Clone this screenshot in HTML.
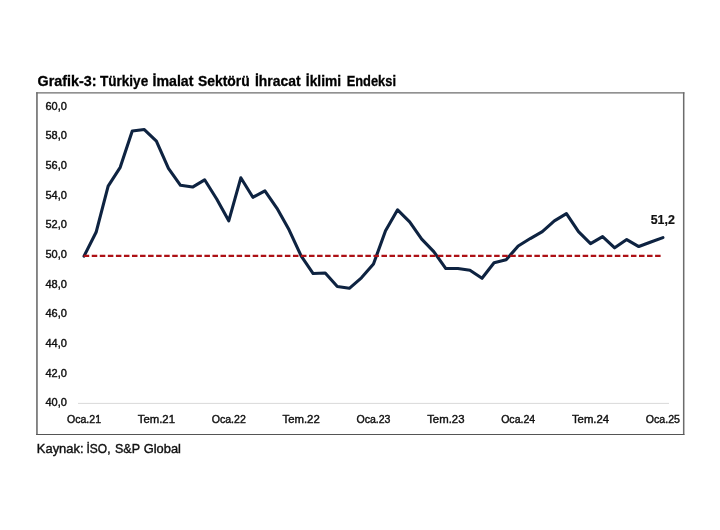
<!DOCTYPE html>
<html lang="tr">
<head>
<meta charset="utf-8">
<title>Grafik-3</title>
<style>
html,body{margin:0;padding:0;background:#fff;}
body{width:720px;height:530px;overflow:hidden;position:relative;font-family:"Liberation Sans",sans-serif;}
svg{position:absolute;left:0;top:0;display:block;}
svg text{font-family:"Liberation Sans",sans-serif;}
.ax text{font-size:10.6px;fill:#111;stroke:#111;stroke-width:0.4px;}
</style>
</head>
<body>
<svg width="720" height="530" viewBox="0 0 720 530">
<rect x="0" y="0" width="720" height="530" fill="#ffffff"/>
<text y="86" font-size="14.4" font-weight="bold" fill="#000" stroke="#000" stroke-width="0.3"><tspan x="37.6" textLength="58.98" lengthAdjust="spacingAndGlyphs">Grafik-3:</tspan> <tspan x="100.0" textLength="48.19" lengthAdjust="spacingAndGlyphs">Türkiye</tspan> <tspan x="152.5" textLength="40.9" lengthAdjust="spacingAndGlyphs">İmalat</tspan> <tspan x="198.0" textLength="51.77" lengthAdjust="spacingAndGlyphs">Sektörü</tspan> <tspan x="255.0" textLength="45.53" lengthAdjust="spacingAndGlyphs">İhracat</tspan> <tspan x="305.8" textLength="35.26" lengthAdjust="spacingAndGlyphs">İklimi</tspan> <tspan x="346.7" textLength="49.28" lengthAdjust="spacingAndGlyphs">Endeksi</tspan></text>
<line x1="36.95" y1="92.2" x2="36.95" y2="435" stroke="#6c6c6c" stroke-width="1.6"/>
<line x1="683.7" y1="92.2" x2="683.7" y2="435" stroke="#6c6c6c" stroke-width="1.5"/>
<line x1="36.2" y1="92.8" x2="684.4" y2="92.8" stroke="#6c6c6c" stroke-width="1.35"/>
<line x1="36.2" y1="434.5" x2="684.4" y2="434.5" stroke="#555" stroke-width="1.2"/>
<line x1="78" y1="403.4" x2="669" y2="403.4" stroke="#d9d9d9" stroke-width="1"/>
<g class="ax">
<text x="45.5" y="109.55" textLength="21.4" lengthAdjust="spacingAndGlyphs">60,0</text>
<text x="45.5" y="139.24" textLength="21.4" lengthAdjust="spacingAndGlyphs">58,0</text>
<text x="45.5" y="168.93" textLength="21.4" lengthAdjust="spacingAndGlyphs">56,0</text>
<text x="45.5" y="198.62" textLength="21.4" lengthAdjust="spacingAndGlyphs">54,0</text>
<text x="45.5" y="228.31" textLength="21.4" lengthAdjust="spacingAndGlyphs">52,0</text>
<text x="45.5" y="258.00" textLength="21.4" lengthAdjust="spacingAndGlyphs">50,0</text>
<text x="45.5" y="287.69" textLength="21.4" lengthAdjust="spacingAndGlyphs">48,0</text>
<text x="45.5" y="317.38" textLength="21.4" lengthAdjust="spacingAndGlyphs">46,0</text>
<text x="45.5" y="347.07" textLength="21.4" lengthAdjust="spacingAndGlyphs">44,0</text>
<text x="45.5" y="376.76" textLength="21.4" lengthAdjust="spacingAndGlyphs">42,0</text>
<text x="45.5" y="406.45" textLength="21.4" lengthAdjust="spacingAndGlyphs">40,0</text>
<text x="66.98" y="422.7" textLength="34.1" lengthAdjust="spacingAndGlyphs">Oca.21</text>
<text x="137.74" y="422.7" textLength="37.3" lengthAdjust="spacingAndGlyphs">Tem.21</text>
<text x="211.70" y="422.7" textLength="34.1" lengthAdjust="spacingAndGlyphs">Oca.22</text>
<text x="282.46" y="422.7" textLength="37.3" lengthAdjust="spacingAndGlyphs">Tem.22</text>
<text x="356.42" y="422.7" textLength="34.1" lengthAdjust="spacingAndGlyphs">Oca.23</text>
<text x="427.18" y="422.7" textLength="37.3" lengthAdjust="spacingAndGlyphs">Tem.23</text>
<text x="501.14" y="422.7" textLength="34.1" lengthAdjust="spacingAndGlyphs">Oca.24</text>
<text x="571.90" y="422.7" textLength="37.3" lengthAdjust="spacingAndGlyphs">Tem.24</text>
<text x="645.86" y="422.7" textLength="34.1" lengthAdjust="spacingAndGlyphs">Oca.25</text>
</g>
<polyline points="84.03,256.10 96.09,232.30 108.15,186.05 120.21,167.30 132.27,131.05 144.33,129.55 156.39,141.05 168.45,168.30 180.51,185.30 192.57,187.05 204.63,179.80 216.69,199.05 228.75,220.80 240.81,177.80 252.87,197.30 264.93,190.80 276.99,208.30 289.05,229.80 301.11,255.80 313.17,273.55 325.23,273.05 337.29,286.55 349.35,288.30 361.41,277.80 373.47,264.05 385.53,230.80 397.59,209.80 409.65,221.80 421.71,239.05 433.77,251.55 445.83,268.55 457.89,268.55 469.95,270.30 482.01,278.30 494.07,262.80 506.13,259.80 518.19,246.05 530.25,238.55 542.31,231.55 554.37,220.80 566.43,213.55 578.49,231.55 590.55,243.55 602.61,236.55 614.67,247.80 626.73,239.55 638.79,246.55 650.85,242.05 662.91,237.60" fill="none" stroke="#0e2341" stroke-width="3.1" stroke-linejoin="round" stroke-linecap="round"/>
<line x1="83.7" y1="255.8" x2="662.9" y2="255.8" stroke="#ad1015" stroke-width="2.25" stroke-dasharray="5.5 2.548"/>
<text x="650.7" y="224.3" font-size="11.9" font-weight="bold" fill="#111" stroke="#111" stroke-width="0.2" textLength="24.1" lengthAdjust="spacingAndGlyphs">51,2</text>
<text y="453" font-size="12.6" fill="#111" stroke="#111" stroke-width="0.4"><tspan x="36.88" textLength="46.65" lengthAdjust="spacingAndGlyphs">Kaynak:</tspan> <tspan x="86.55" textLength="23.94" lengthAdjust="spacingAndGlyphs">İSO,</tspan> <tspan x="115.0" textLength="24.8" lengthAdjust="spacingAndGlyphs">S&amp;P</tspan> <tspan x="143.7" textLength="37.22" lengthAdjust="spacingAndGlyphs">Global</tspan></text>
</svg>
</body>
</html>
